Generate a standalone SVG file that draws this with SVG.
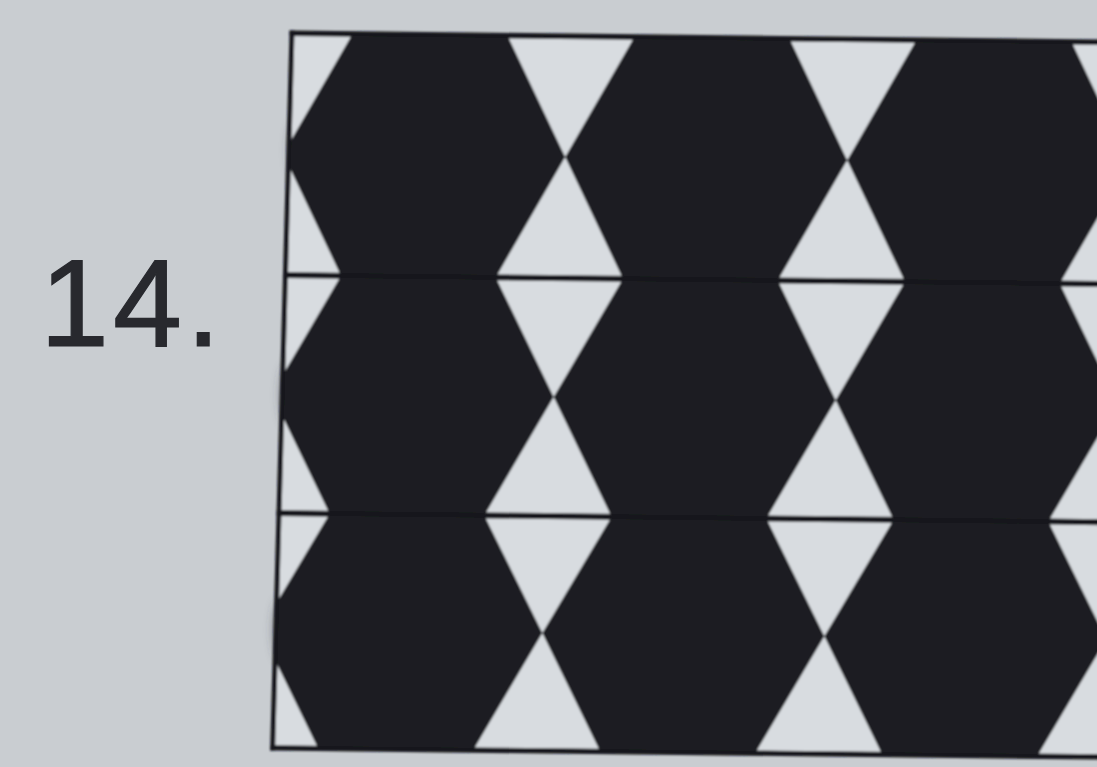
<svg xmlns="http://www.w3.org/2000/svg" width="1097" height="767" viewBox="0 0 1097 767">
  <defs>
    <style>
      .ink { fill: #1e1f24; }
      .paper { fill: #d8dce0; }
      .rule { stroke: #16171b; stroke-width: 5; fill: none; stroke-linecap: square; }
      .num { font-family: "Liberation Sans", Arial, sans-serif; font-size: 124px; fill: #28292e; letter-spacing: 4px; stroke: #28292e; stroke-width: 1.2; }
      .smudge { fill: #3a3c44; opacity: 0.45; }
    </style>
    <clipPath id="frameClip" clipPathUnits="userSpaceOnUse">
      <polygon points="292,33 1292,44 1272.7,759 272.7,748"/>
    </clipPath>
    <filter id="soft" x="-5%" y="-5%" width="110%" height="110%">
      <feGaussianBlur stdDeviation="1.3"/>
    </filter>
    <filter id="smear" x="-50%" y="-50%" width="200%" height="200%">
      <feGaussianBlur stdDeviation="5"/>
    </filter>
  </defs>

  <rect width="1097" height="767" fill="#c9cdd1"/>

  <g id="label">
    <text class="num" x="40" y="346">14.</text>
  </g>

  <g id="smudges" filter="url(#smear)">
    <ellipse class="smudge" cx="296" cy="150" rx="7" ry="30"/>
    <ellipse class="smudge" cx="287" cy="395" rx="7" ry="30"/>
    <ellipse class="smudge" cx="280" cy="630" rx="7" ry="30"/>
  </g>

  <g id="pattern" filter="url(#soft)">
    <g clip-path="url(#frameClip)">
      <g transform="matrix(1 0.011 -0.048 1 292 33)">
        <rect class="ink" x="-100" y="-10" width="1200" height="740"/>
        <g id="row1" class="paper">
          <polygon points="-65,3 59,3 -3,121"/><polygon points="-65,239 59,239 -3,121"/>
          <polygon points="217,3 341,3 279,121"/><polygon points="217,239 341,239 279,121"/>
          <polygon points="499,3 623,3 561,121"/><polygon points="499,239 623,239 561,121"/>
          <polygon points="781,3 905,3 843,121"/><polygon points="781,239 905,239 843,121"/>
        </g>
        <g id="row2" class="paper">
          <polygon points="-65,245 59,245 -3,361"/><polygon points="-65,477 59,477 -3,361"/>
          <polygon points="217,245 341,245 279,361"/><polygon points="217,477 341,477 279,361"/>
          <polygon points="499,245 623,245 561,361"/><polygon points="499,477 623,477 561,361"/>
          <polygon points="781,245 905,245 843,361"/><polygon points="781,477 905,477 843,361"/>
        </g>
        <g id="row3" class="paper">
          <polygon points="-65,483 59,483 -3,597"/><polygon points="-65,712 59,712 -3,597"/>
          <polygon points="217,483 341,483 279,597"/><polygon points="217,712 341,712 279,597"/>
          <polygon points="499,483 623,483 561,597"/><polygon points="499,712 623,712 561,597"/>
          <polygon points="781,483 905,483 843,597"/><polygon points="781,712 905,712 843,597"/>
        </g>
      </g>
    </g>
    <g id="frame" class="rule" transform="matrix(1 0.011 -0.027 1 292 33)">
      <line x1="0" y1="0" x2="1000" y2="0"/>
      <line x1="0" y1="242" x2="1000" y2="242"/>
      <line x1="0" y1="480" x2="1000" y2="480"/>
      <line x1="0" y1="715" x2="1000" y2="715"/>
      <line x1="0" y1="0" x2="0" y2="715"/>
    </g>
  </g>
</svg>
